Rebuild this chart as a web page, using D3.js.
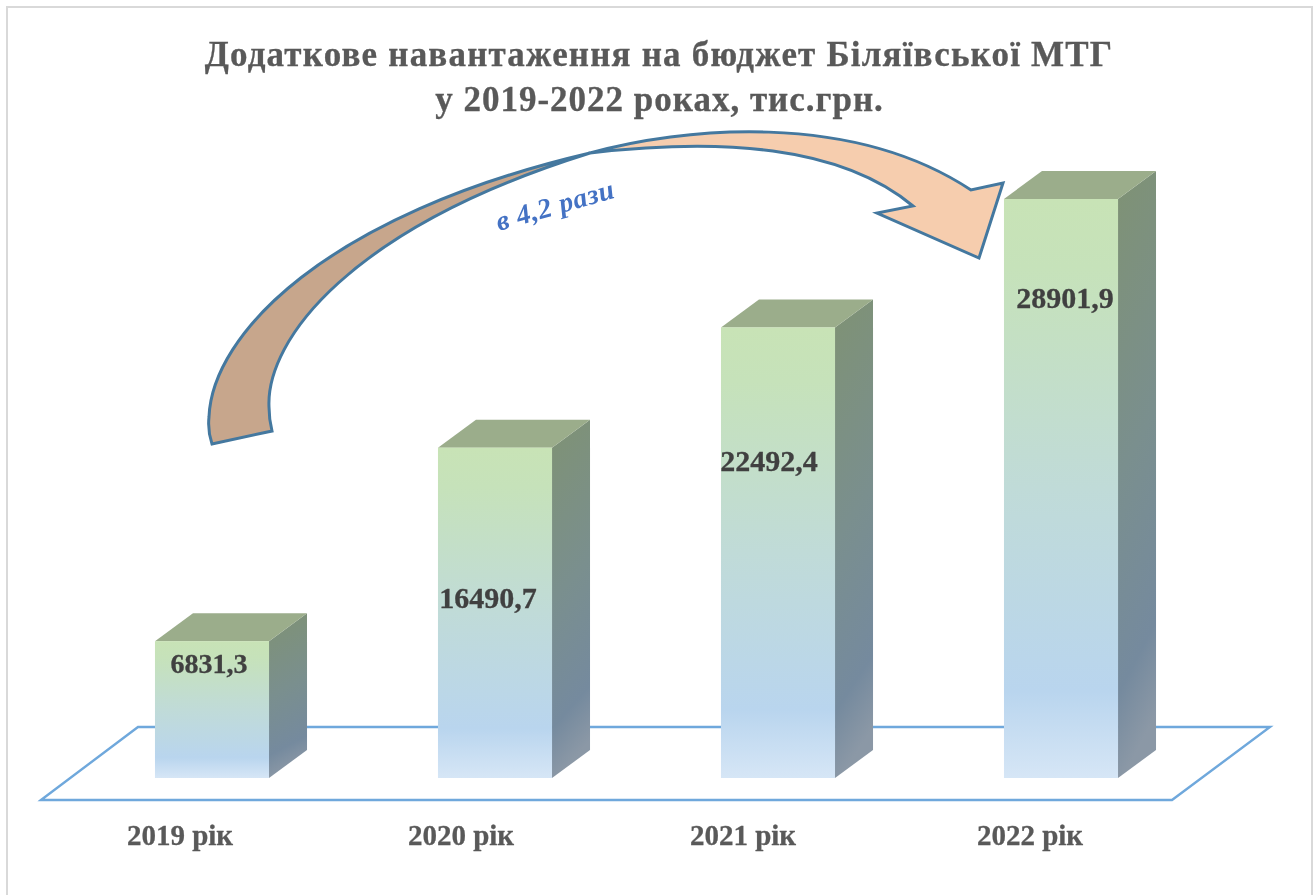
<!DOCTYPE html>
<html><head><meta charset="utf-8">
<script src="https://cdnjs.cloudflare.com/ajax/libs/d3/7.8.5/d3.min.js"></script>
<style>html,body{margin:0;padding:0;background:#fff}svg{display:block;filter:blur(0.45px)}text{font-family:"Liberation Serif",serif;font-weight:bold}</style>
</head><body><div id="c"></div>
<script>
const categories = ["2019 рік","2020 рік","2021 рік","2022 рік"];
const values = [6831.3,16490.7,22492.4,28901.9];
const valueLabels = ["6831,3","16490,7","22492,4","28901,9"];
const titleLines = ["Додаткове навантаження на бюджет Біляївської МТГ","у 2019-2022 роках, тис.грн."];
const annotation = "в 4,2 рази";

const labelCenters = [209,488,769,1065];
const labelBaselines = [673,608,471,308];
const labelSizes = [28,30,30,30];
const catCenters = [180,461,743,1030];

const W=1315,H=895;
const svg=d3.select("#c").append("svg").attr("width",W).attr("height",H);
const defs=svg.append("defs");
function grad(id,x2,y2,stops){
  const g=defs.append("linearGradient").attr("id",id).attr("x1",0).attr("y1",0).attr("x2",x2).attr("y2",y2);
  stops.forEach(s=>g.append("stop").attr("offset",s[0]).attr("stop-color",s[1]));
}
grad("front",0,1,[[0,"#c8e3b6"],[0.12,"#c6e2ba"],[0.5,"#c0dbd8"],[0.85,"#b9d5ee"],[1,"#d6e6f6"]]);
grad("side",0.12,1,[[0,"#7f9274"],[0.5,"#7a8f8e"],[0.85,"#758a9e"],[1,"#8b98a6"]]);

svg.append("rect").attr("x",7).attr("y",7).attr("width",1305).attr("height",H+10)
  .attr("fill","#fff").attr("stroke","#d9d9d9").attr("stroke-width",2);

const x=d3.scaleBand().domain(categories).range([70.5,1202.5]).paddingInner(0.597).paddingOuter(0.2985);
const y=d3.scaleLinear().domain([0,28901.9]).range([778,199]);
const dx=38,dy=-28;
const baseY=y(0);

svg.append("path").attr("d","M41,800L138,727L1270,727L1172,800Z")
  .attr("fill","none").attr("stroke","#6fa8dc").attr("stroke-width",2.4);

const bars=svg.selectAll("g.bar").data(values).join("g").attr("class","bar");
bars.append("path").attr("fill","url(#side)").attr("d",(d,i)=>{
  const r=x(categories[i])+x.bandwidth(),t=y(d);
  return `M${r},${t}L${r+dx},${t+dy}L${r+dx},${baseY+dy}L${r},${baseY}Z`;});
bars.append("path").attr("fill","#9bad8b").attr("d",(d,i)=>{
  const l=x(categories[i]),r=l+x.bandwidth(),t=y(d);
  return `M${l},${t}L${l+dx},${t+dy}L${r+dx},${t+dy}L${r},${t}Z`;});
bars.append("rect").attr("fill","url(#front)")
  .attr("x",(d,i)=>x(categories[i])).attr("width",x.bandwidth())
  .attr("y",d=>y(d)).attr("height",d=>baseY-y(d));
bars.append("text").text((d,i)=>valueLabels[i])
  .attr("x",(d,i)=>labelCenters[i]).attr("y",(d,i)=>labelBaselines[i])
  .attr("text-anchor","middle").attr("font-size",(d,i)=>labelSizes[i]).attr("fill","#404040")
  .attr("stroke","#404040").attr("stroke-width",0.3);

svg.selectAll("text.cat").data(categories).join("text").attr("class","cat").text(d=>d)
  .attr("x",(d,i)=>catCenters[i]).attr("y",845)
  .attr("text-anchor","middle").attr("font-size",29).attr("fill","#595959")
  .attr("stroke","#595959").attr("stroke-width",0.3);

svg.selectAll("text.title").data(titleLines).join("text").attr("class","title").text(d=>d)
  .attr("x",(d,i)=>i?659.5:659).attr("y",(d,i)=>i?111:66)
  .attr("text-anchor","middle").attr("font-size",35).attr("letter-spacing",(d,i)=>i?1.0:1.2).attr("fill","#595959")
  .attr("stroke","#595959").attr("stroke-width",0.3);

const stroke="#44789f";
svg.append("path")
  .attr("d","M212,444 C209,435 208,426 209,417 C212,335 325,215 590,153 C350,228 266,340 269,407 C269,415 270,423 272,431 Z")
  .attr("fill","#c7a68c").attr("stroke",stroke).attr("stroke-width",3).attr("stroke-linejoin","miter");
svg.append("path")
  .attr("d","M590,153 C680,128 850,110 971,190 L1003,183 L979,258 L877,213 L913,206 C840,145 720,138 590,153 Z")
  .attr("fill","#f6cdae").attr("stroke",stroke).attr("stroke-width",3).attr("stroke-linejoin","miter");

svg.append("text").text(annotation).attr("transform","translate(499,231) rotate(-16)")
  .attr("font-size",28).attr("letter-spacing",0.6).attr("font-style","italic").attr("fill","#4472c4");
</script></body></html>
